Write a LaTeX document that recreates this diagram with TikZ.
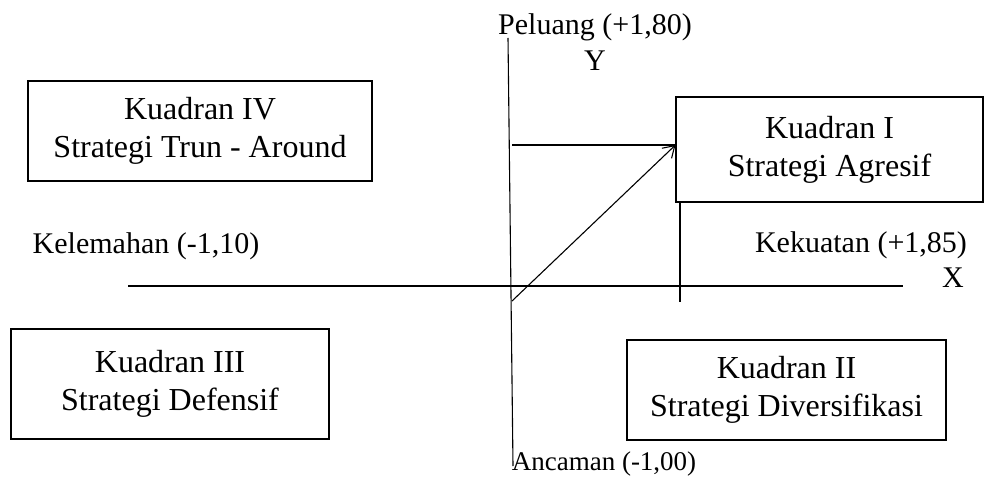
\documentclass[tikz,border=0pt]{standalone}
\usepackage{fontspec}
\setmainfont{Liberation Serif}
\usetikzlibrary{arrows.meta}
\begin{document}
\begin{tikzpicture}[x=1pt,y=-1pt,
  quad/.style={draw,line width=1.1pt,align=center,inner sep=0pt,font=\fontsize{32}{38}\selectfont},
  lbl/.style={anchor=base,inner sep=0pt,font=\fontsize{30}{36}\selectfont},
  ax/.style={line width=1.1pt}]
\useasboundingbox (0,0) rectangle (984,478);
% quadrant boxes
\node[quad,minimum width=344pt,minimum height=100pt] (k4) at (200,131) {Kuadran IV\\Strategi Trun - Around};
\node[quad,minimum width=307pt,minimum height=105pt] (k1) at (829.5,149.5) {Kuadran I\\Strategi Agresif};
\node[quad,minimum width=318pt,minimum height=110pt] (k3) at (170,384) {Kuadran III\\Strategi Defensif};
\node[quad,minimum width=319pt,minimum height=100pt] (k2) at (786.5,390) {Kuadran II\\Strategi Diversifikasi};
% labels
\node[lbl] (pel) at (595,35) {Peluang (+1,80)};
\node[lbl] (ylab) at (595,71) {Y};
\node[lbl] (kel) at (146,253) {Kelemahan (-1,10)};
\node[lbl] (kek) at (861,252) {Kekuatan (+1,85)};
\node[lbl] (xlab) at (953,287) {X};
\node[lbl,font=\fontsize{27}{32}\selectfont] (anc) at (604,470) {Ancaman (-1,00)};
% axes
\coordinate (ytop) at (508,38);
\coordinate (ybot) at (513,466);
\coordinate (xl) at (128,286);
\coordinate (xr) at (903,286);
\draw[ax] (ytop) -- (ybot);
\draw[ax] (xl) -- (xr);
% connectors
\coordinate (hs) at (512,145);
\coordinate (o) at (512,301);
\coordinate (t) at (680,302);
\draw[ax] (hs) -- (hs -| k1.west);
\draw[ax,-{Straight Barb[length=11pt,width=14pt,line width=1.1pt]}] (o) -- (hs -| k1.west);
\draw[ax] (t |- k1.south) -- (t);
\end{tikzpicture}
\end{document}
